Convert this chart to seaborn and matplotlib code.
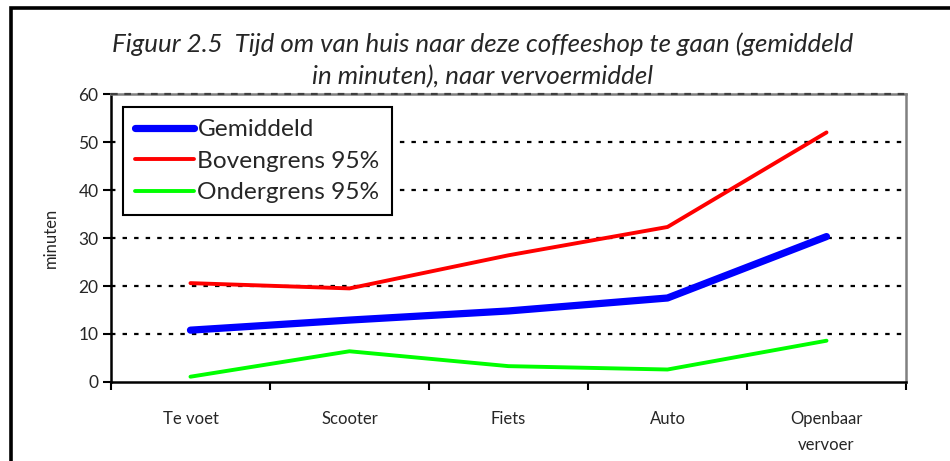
import pandas as pd
import matplotlib.pyplot as plt
import matplotlib.patches as mpatches
import seaborn as sns

# -------------------------------
# DATA
# -------------------------------
categories = ["Te voet", "Scooter", "Fiets", "Auto", "Openbaar\nvervoer"]
gemiddeld = [10.8, 12.9, 14.8, 17.5, 30.3]
bovengrens = [20.6, 19.5, 26.4, 32.3, 52.0]
ondergrens = [1.1, 6.4, 3.3, 2.6, 8.6]
series_names = ["Gemiddeld", "Bovengrens 95%", "Ondergrens 95%"]
y_ticks = [0, 10, 20, 30, 40, 50, 60]

title = ("Figuur 2.5  Tijd om van huis naar deze coffeeshop te gaan (gemiddeld\n"
         "in minuten), naar vervoermiddel")

rows = []
for name, vals in zip(series_names, [gemiddeld, bovengrens, ondergrens]):
    for i, v in enumerate(vals):
        rows.append({"pos": i, "serie": name, "minuten": v})
df = pd.DataFrame(rows)

sns.set_theme(style="white")
plt.rcParams["font.family"] = ["Lato", "DejaVu Sans"]

fig = plt.figure(figsize=(9.5, 4.61), dpi=100)
ax = fig.add_axes([0.1168, 0.1714, 0.8369, 0.6246])

# dotted grid lines
for y in y_ticks[1:-1]:
    ax.axhline(y, color="black", lw=1.6, ls=(0, (2, 3.2)), zorder=1)

sns.lineplot(data=df, x="pos", y="minuten", hue="serie", size="serie",
             hue_order=series_names, size_order=series_names,
             palette={"Gemiddeld": "#0000ff", "Bovengrens 95%": "#ff0000",
                      "Ondergrens 95%": "#00ff00"},
             sizes={"Gemiddeld": 5.2, "Bovengrens 95%": 2.8,
                    "Ondergrens 95%": 2.8},
             ax=ax, zorder=3, legend=False)
for ln in ax.get_lines():
    ln.set_solid_capstyle("round")

ax.set_xlim(-0.5, 4.5)
ax.set_ylim(0, 60)
ax.set_yticks(y_ticks)
ax.set_xticks([i - 0.5 for i in range(len(categories) + 1)])
ax.set_xticklabels([])
ax.set_xticks(range(len(categories)), minor=True)
ax.set_xticklabels(categories, minor=True, fontsize=12, linespacing=1.75)
ax.tick_params(axis="x", which="major", direction="out", length=6, width=1.5,
               color="black", bottom=True)
ax.tick_params(axis="x", which="minor", length=0, pad=21)
ax.tick_params(axis="y", direction="out", length=6, width=1.5, color="black",
               left=True, labelsize=12.5, pad=3)
ax.set_xlabel("")
ax.set_ylabel("minuten", fontsize=12, labelpad=14)

for side in ["left", "bottom"]:
    ax.spines[side].set_color("black")
    ax.spines[side].set_linewidth(1.8)
for side in ["top", "right"]:
    ax.spines[side].set_color("#808080")
    ax.spines[side].set_linewidth(1.8)
ax.axhline(60, color="#404040", lw=1.6, ls=(0, (3, 3)), zorder=4, clip_on=False)

# legend
handles = [plt.Line2D([], [], color=c, lw=w, solid_capstyle="round")
           for c, w in [("#0000ff", 5.2), ("#ff0000", 2.8), ("#00ff00", 2.8)]]
leg = ax.legend(handles, series_names, loc="upper left",
                bbox_to_anchor=(0.015, 0.955), fontsize=17.6, frameon=True,
                fancybox=False, edgecolor="black", framealpha=1,
                handlelength=2.4, handletextpad=0.15, borderpad=0.5,
                labelspacing=0.42, borderaxespad=0)
leg.get_frame().set_linewidth(1.5)

fig.text(0.508, 0.869, title, ha="center", va="center", fontsize=18.6,
         style="italic", linespacing=1.45)

# outer frame (only left and top visible)
fig.add_artist(mpatches.Rectangle((11 / 950, -0.2), 1.2, 1.2 - 8 / 461,
                                  transform=fig.transFigure, fill=False,
                                  edgecolor="black", lw=2.6))

fig.savefig("out.png", dpi=100)
